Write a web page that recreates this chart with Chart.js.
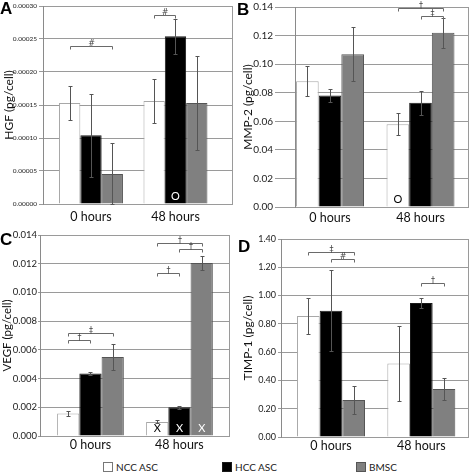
<!DOCTYPE html>
<html lang="en">
<head>
<meta charset="UTF-8">
<title>Growth factor secretion per cell</title>
<script src="https://cdn.jsdelivr.net/npm/chart.js"></script>
<style>
  body { margin: 0; background: #fff; font-family: 'Lato', sans-serif; }
  #wrap { position: relative; width: 473px; height: 472px; overflow: hidden; }
  #wrap canvas { position: absolute; }
  #legend { position: absolute; left: 0; top: 461px; width: 473px; height: 12px; font-size: 10px; color: #222; }
  .item { position: absolute; top: 0; height: 11px; display: flex; align-items: center; white-space: nowrap; }
  .swatch { width: 10px; height: 10px; margin-right: 3px; box-sizing: border-box; border: 1px solid #555; }
</style>
</head>
<body>
<div id="wrap">
  <canvas id="chartA" width="236" height="225" style="left:0;top:0"></canvas>
  <canvas id="chartB" width="237" height="225" style="left:236px;top:0"></canvas>
  <canvas id="chartC" width="236" height="225" style="left:0;top:225px"></canvas>
  <canvas id="chartD" width="237" height="225" style="left:236px;top:225px"></canvas>
  <div id="legend"></div>
</div>
<script>
// categories
const timepoints = ['0 hours', '48 hours'];
const cellTypes = ['NCC ASC', 'HCC ASC', 'BMSC'];

// HGF (pg/cell): means and error bars for NCC, HCC, BMSC
const hgfNcc = [0.000153, 0.000156];
const hgfHcc = [0.000104, 0.000254];
const hgfBmsc = [0.0000455, 0.000153];
const hgfNccErr = [0.0000255, 0.0000335];
const hgfHccErr = [0.000063, 0.000027];
const hgfBmscErr = [0.0000475, 0.000071];
const hgfTicks = [0, 0.00005, 0.0001, 0.00015, 0.0002, 0.00025, 0.0003];

// MMP-2 (pg/cell)
const mmpNcc = [0.088, 0.058];
const mmpHcc = [0.078, 0.073];
const mmpBmsc = [0.107, 0.122];
const mmpNccErr = [0.0105, 0.0075];
const mmpHccErr = [0.0045, 0.0085];
const mmpBmscErr = [0.019, 0.0105];
const mmpTicks = [0, 0.02, 0.04, 0.06, 0.08, 0.10, 0.12, 0.14];

// VEGF (pg/cell)
const vegfNcc = [0.00156, 0.00098];
const vegfHcc = [0.00435, 0.0020];
const vegfBmsc = [0.0055, 0.01205];
const vegfNccErr = [0.0002, 0.0001];
const vegfHccErr = [0.00012, 0.0001];
const vegfBmscErr = [0.0009, 0.00047];
const vegfTicks = [0, 0.002, 0.004, 0.006, 0.008, 0.010, 0.012, 0.014];

// TIMP-1 (pg/cell)
const timpNcc = [0.855, 0.52];
const timpHcc = [0.893, 0.947];
const timpBmsc = [0.262, 0.34];
const timpNccErr = [0.125, 0.265];
const timpHccErr = [0.285, 0.035];
const timpBmscErr = [0.1, 0.075];
const timpTicks = [0, 0.2, 0.4, 0.6, 0.8, 1.0, 1.2, 1.4];

// significance brackets: [timepoint, from series, to series, height, symbol]
const hgfBrackets = [[0, 0, 2, 0.00024, '#'], [1, 0, 1, 0.000286, '#']];
const mmpBrackets = [[1, 0, 2, 0.1395, '\u2020'], [1, 1, 2, 0.1337, '\u2021']];
const vegfBrackets = [[0, 0, 2, 0.0072, '\u2021'], [0, 0, 1, 0.0067, '\u2020'],
                      [1, 0, 2, 0.01342, '\u2020'], [1, 1, 2, 0.0130, '\u2020'], [1, 0, 1, 0.01133, '\u2020']];
const timpBrackets = [[0, 0, 2, 1.308, '\u2021'], [0, 1, 2, 1.256, '#'], [1, 1, 2, 1.087, '\u2020']];

// in-bar markers: [timepoint, series, text]
const hgfMarks = [[1, 1, 'O']];
const mmpMarks = [[1, 0, 'O']];
const vegfMarks = [[1, 0, 'X'], [1, 1, 'X'], [1, 2, 'X']];
const timpMarks = [];

const FONT = 'Lato';
const barFill = ['#ffffff', '#000000', '#808080'];
const barEdge = ['#a8a8a8', '#1a1a1a', '#555555'];

const extras = {};

const panelPlugin = {
  id: 'panelExtras',
  afterDatasetsDraw(chart) {
    const ex = extras[chart.canvas.id];
    const ctx = chart.ctx;
    const { top, bottom, right } = chart.chartArea;
    const ys = chart.scales.y;
    ctx.save();

    // right edge of the frame
    ctx.strokeStyle = '#9a9a9a';
    ctx.lineWidth = 1;
    ctx.beginPath();
    ctx.moveTo(Math.round(right) - 0.5, top);
    ctx.lineTo(Math.round(right) - 0.5, bottom);
    ctx.stroke();

    // error bars
    ctx.strokeStyle = '#555';
    ex.errors.forEach((errs, k) => {
      chart.getDatasetMeta(k).data.forEach((bar, j) => {
        const v = ex.means[k][j];
        const x = Math.round(bar.x) + 0.5;
        const y1 = Math.round(ys.getPixelForValue(v + errs[j])) + 0.5;
        const y2 = Math.round(ys.getPixelForValue(Math.max(v - errs[j], 0))) + 0.5;
        ctx.beginPath();
        ctx.moveTo(x, y1); ctx.lineTo(x, y2);
        ctx.moveTo(x - 2, y1); ctx.lineTo(x + 2, y1);
        ctx.moveTo(x - 2, y2); ctx.lineTo(x + 2, y2);
        ctx.stroke();
      });
    });

    // significance brackets
    ctx.strokeStyle = '#6a6a6a';
    ctx.fillStyle = '#444';
    ctx.font = '8px "DejaVu Sans"';
    ctx.textAlign = 'center';
    ctx.textBaseline = 'alphabetic';
    ex.brackets.forEach(([t, a, b, val, sym]) => {
      const xa = Math.round(chart.getDatasetMeta(a).data[t].x) + 0.5;
      const xb = Math.round(chart.getDatasetMeta(b).data[t].x) + 0.5;
      const yy = Math.round(ys.getPixelForValue(val)) + 0.5;
      ctx.beginPath();
      ctx.moveTo(xa, yy + 3); ctx.lineTo(xa, yy); ctx.lineTo(xb, yy); ctx.lineTo(xb, yy + 3);
      ctx.stroke();
      ctx.fillText(sym, (xa + xb) / 2, yy - 1);
    });

    // markers inside bars
    ctx.font = '11px ' + FONT;
    ctx.textBaseline = 'middle';
    ex.marks.forEach(([t, k, txt]) => {
      const bar = chart.getDatasetMeta(k).data[t];
      ctx.fillStyle = k === 0 ? '#000' : '#fff';
      ctx.fillText(txt, bar.x, bottom - 8);
    });

    // panel letter
    ctx.font = 'bold 17px "Liberation Sans"';
    ctx.fillStyle = '#000';
    ctx.textAlign = 'left';
    ctx.textBaseline = 'alphabetic';
    ctx.fillText(ex.letter, ex.letterAt[0], ex.letterAt[1]);
    ctx.restore();
  }
};

function makePanel(id, cfg) {
  extras[id] = {
    means: cfg.means, errors: cfg.errors, brackets: cfg.brackets,
    marks: cfg.marks, letter: cfg.letter, letterAt: cfg.letterAt
  };
  const datasets = cfg.means.map((vals, k) => ({
    label: cellTypes[k],
    data: vals.map((v, j) => ({ x: j, y: v })),
    backgroundColor: barFill[k],
    borderColor: barEdge[k],
    borderWidth: 1,
    categoryPercentage: cfg.groupPct,
    barPercentage: 1
  }));
  new Chart(document.getElementById(id), {
    type: 'bar',
    data: { datasets },
    options: {
      responsive: false,
      animation: false,
      events: [],
      layout: { padding: cfg.padding },
      plugins: { legend: { display: false }, tooltip: { enabled: false } },
      scales: {
        x: {
          type: 'linear',
          min: cfg.xRange[0], max: cfg.xRange[1],
          offset: false,
          afterBuildTicks: s => { s.ticks = timepoints.map((t, j) => ({ value: j })); },
          afterFit: s => { s.height = cfg.xHeight; s.paddingLeft = 0; s.paddingRight = 0; },
          ticks: {
            callback: v => timepoints[v],
            font: { family: FONT, size: 12.5 },
            color: '#111',
            padding: cfg.xPad,
            maxRotation: 0, minRotation: 0, autoSkip: false
          },
          grid: { display: false, drawTicks: false, offset: false },
          border: { display: false }
        },
        y: {
          min: 0,
          max: cfg.ticks[cfg.ticks.length - 1],
          afterBuildTicks: s => { s.ticks = cfg.ticks.map(v => ({ value: v })); },
          afterFit: s => { s.width = cfg.yWidth; s.paddingTop = 0; s.paddingBottom = 0; },
          ticks: {
            callback: v => v.toFixed(cfg.decimals),
            font: { family: FONT, size: cfg.tickSize },
            color: '#222',
            padding: cfg.tickPad
          },
          grid: { color: '#9a9a9a', tickLength: cfg.tickLen, drawTicks: true },
          border: { color: '#8a8a8a' },
          title: {
            display: true,
            text: cfg.title,
            font: { family: FONT, size: cfg.titleSize },
            color: '#111',
            padding: { top: cfg.titlePad, bottom: 0 }
          }
        }
      }
    },
    plugins: [panelPlugin]
  });
}

makePanel('chartA', {
  means: [hgfNcc, hgfHcc, hgfBmsc], errors: [hgfNccErr, hgfHccErr, hgfBmscErr],
  brackets: hgfBrackets, marks: hgfMarks, ticks: hgfTicks, decimals: 5,
  title: 'HGF (pg/cell)', letter: 'A', letterAt: [0, 14],
  padding: { left: 0, top: 6, right: 3, bottom: 0 },
  yWidth: 43, xHeight: 21, xPad: 5, tickSize: 6.5, tickPad: 2, tickLen: 4,
  titleSize: 12, titlePad: 2,
  xRange: [-0.568, 1.681], groupPct: 0.757
});

makePanel('chartB', {
  means: [mmpNcc, mmpHcc, mmpBmsc], errors: [mmpNccErr, mmpHccErr, mmpBmscErr],
  brackets: mmpBrackets, marks: mmpMarks, ticks: mmpTicks, decimals: 2,
  title: 'MMP-2 (pg/cell)', letter: 'B', letterAt: [1, 15],
  padding: { left: 0, top: 7, right: 4, bottom: 0 },
  yWidth: 59, xHeight: 18, xPad: 3, tickSize: 10, tickPad: 2, tickLen: 20,
  titleSize: 12, titlePad: 5,
  xRange: [-0.387, 1.536], groupPct: 0.751
});

makePanel('chartC', {
  means: [vegfNcc, vegfHcc, vegfBmsc], errors: [vegfNccErr, vegfHccErr, vegfBmscErr],
  brackets: vegfBrackets, marks: vegfMarks, ticks: vegfTicks, decimals: 3,
  title: 'VEGF (pg/cell)', letter: 'C', letterAt: [0, 20],
  padding: { left: 0, top: 10, right: 6, bottom: 0 },
  yWidth: 40, xHeight: 14, xPad: 1, tickSize: 9.5, tickPad: 1, tickLen: 2,
  titleSize: 11.5, titlePad: 0,
  xRange: [-0.567, 1.568], groupPct: 0.75
});

makePanel('chartD', {
  means: [timpNcc, timpHcc, timpBmsc], errors: [timpNccErr, timpHccErr, timpBmscErr],
  brackets: timpBrackets, marks: timpMarks, ticks: timpTicks, decimals: 2,
  title: 'TIMP-1 (pg/cell)', letter: 'D', letterAt: [2, 27],
  padding: { left: 0, top: 14, right: 4, bottom: 0 },
  yWidth: 45, xHeight: 13, xPad: 1, tickSize: 9, tickPad: 2, tickLen: 3,
  titleSize: 12, titlePad: 5,
  xRange: [-0.554, 1.528], groupPct: 0.753
});

// shared legend under the four panels
const legendX = [103, 222, 356];
const legend = document.getElementById('legend');
cellTypes.forEach((name, k) => {
  const item = document.createElement('div');
  item.className = 'item';
  item.style.left = legendX[k] + 'px';
  const sw = document.createElement('span');
  sw.className = 'swatch';
  sw.style.background = barFill[k];
  sw.style.borderColor = k === 0 ? '#777' : barEdge[k];
  item.appendChild(sw);
  item.appendChild(document.createTextNode(name));
  legend.appendChild(item);
});
</script>
</body>
</html>
